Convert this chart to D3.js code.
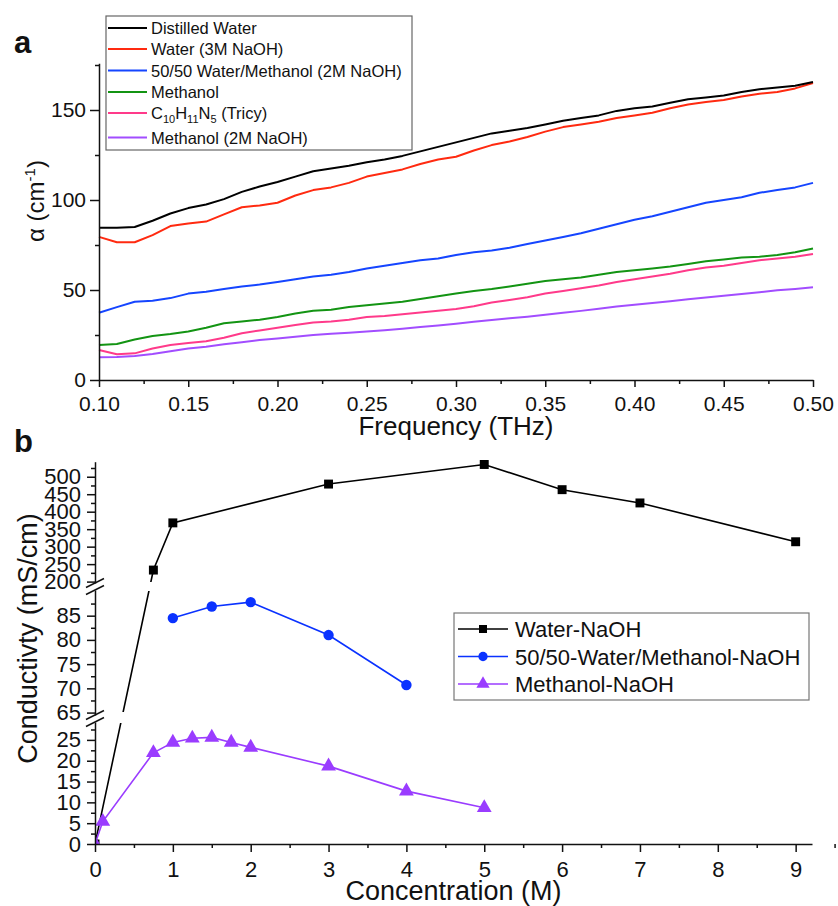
<!DOCTYPE html>
<html lang="en">
<head>
  <meta charset="UTF-8">
  <title>Absorption and conductivity</title>
  <style>
    body { margin: 0; background: #fff; }
    svg { display: block; }
    text { font-family: "Liberation Sans", Arial, sans-serif; fill: #111; }
  </style>
</head>
<body>
  <svg id="chart" width="838" height="906"></svg>

  <script src="https://d3js.org/d3.v7.min.js"></script>
  <script>
    // ---- panel a data: absorption vs frequency ----
    const freqTHz = [0.10, 0.11, 0.12, 0.13, 0.14, 0.15, 0.16, 0.17, 0.18, 0.19,
                     0.20, 0.21, 0.22, 0.23, 0.24, 0.25, 0.26, 0.27, 0.28, 0.29,
                     0.30, 0.31, 0.32, 0.33, 0.34, 0.35, 0.36, 0.37, 0.38, 0.39,
                     0.40, 0.41, 0.42, 0.43, 0.44, 0.45, 0.46, 0.47, 0.48, 0.49, 0.50];
    const distilledWater = [84.6, 84.6, 85, 88.5, 92.5, 95.5, 97.5, 100.5, 104.5, 107.5,
                            110, 113, 116, 117.5, 119, 121, 122.5, 124.5, 127, 129.5,
                            132, 134.5, 137, 138.5, 140, 142, 144, 145.5, 147, 149.5,
                            151, 152, 154, 156, 157, 158, 160, 161.5, 162.5, 163.5, 165.5];
    const water3M = [79.5, 76.5, 76.5, 80.5, 85.5, 87, 88, 92, 96, 97,
                     98.5, 102.5, 105.5, 107, 109.5, 113, 115, 117, 120, 122.5,
                     124, 127.5, 130.5, 132.5, 135, 138, 140.5, 142, 143.5, 145.5,
                     147, 148.5, 151, 153, 154.5, 155.5, 157.5, 159, 160, 162, 165];
    const mix2M = [37.4, 40.5, 43.5, 44, 45.5, 48, 49, 50.5, 52, 53,
                   54.5, 56, 57.5, 58.5, 60, 62, 63.5, 65, 66.5, 67.5,
                   69.5, 71, 72, 73.5, 75.5, 77.5, 79.5, 81.5, 84, 86.5,
                   89, 91, 93.5, 96, 98.5, 100, 101.5, 104, 105.5, 107, 109.5];
    const methanol = [19.4, 20, 22.5, 24.5, 25.5, 27, 29, 31.5, 32.5, 33.5,
                      35, 37, 38.5, 39, 40.5, 41.5, 42.5, 43.5, 45, 46.5,
                      48, 49.5, 50.5, 52, 53.5, 55, 56, 57, 58.5, 60,
                      61, 62, 63, 64.5, 66, 67, 68, 68.5, 69.5, 71, 73];
    const tricy = [16.7, 14.3, 14.8, 17.5, 19.5, 20.5, 21.5, 23.5, 26, 27.5,
                   29, 30.5, 32, 32.5, 33.5, 35, 35.5, 36.5, 37.5, 38.5,
                   39.5, 41, 43, 44.5, 46, 48, 49.5, 51, 52.5, 54.5,
                   56, 57.5, 59, 61, 62.5, 63.5, 65, 66.5, 67.5, 68.5, 70];
    const methanol2M = [12.6, 12.8, 13.3, 14.5, 16, 17.5, 18.5, 19.8, 21, 22.2,
                        23.1, 24, 25, 25.7, 26.3, 26.9, 27.6, 28.5, 29.4, 30.3,
                        31.3, 32.3, 33.3, 34.3, 35.2, 36.2, 37.3, 38.4, 39.6, 40.8,
                        41.8, 42.8, 43.8, 44.8, 45.8, 46.8, 47.8, 48.8, 49.8, 50.6, 51.5];
    const freqTicks = [0.10, 0.15, 0.20, 0.25, 0.30, 0.35, 0.40, 0.45, 0.50];
    const alphaTicks = [0, 50, 100, 150];

    // ---- panel b data: conductivity vs concentration ----
    const concWater = [0, 0.75, 1, 3, 5, 6, 7, 9];
    const condWater = [0, 233, 368, 479, 535, 463, 425, 314];
    const concMix = [1, 1.5, 2, 3, 4];
    const condMix = [84.5, 86.9, 87.8, 81, 70.7];
    const concMeth = [0, 0.1, 0.75, 1, 1.25, 1.5, 1.75, 2, 3, 4, 5];
    const condMeth = [0, 5.4, 21.9, 24.4, 25.4, 25.6, 24.4, 23.2, 18.7, 12.7, 8.7];
    const concTicks = [0, 1, 2, 3, 4, 5, 6, 7, 8, 9];
    const condTicksLow = [0, 5, 10, 15, 20, 25];
    const condTicksMid = [65, 70, 75, 80, 85];
    const condTicksTop = [200, 250, 300, 350, 400, 450, 500];

    const svg = d3.select("#chart");
    const FONT = "'Liberation Sans', Arial, sans-serif";

    // =========================== panel a ===========================
    const seriesA = [
      { name: "Distilled Water", values: distilledWater, color: "#000000" },
      { name: "Water (3M NaOH)", values: water3M, color: "#ff2a10" },
      { name: "50/50 Water/Methanol (2M NaOH)", values: mix2M, color: "#1545ff" },
      { name: "Methanol", values: methanol, color: "#139413" },
      { name: "C10H11N5 (Tricy)", values: tricy, color: "#ff3a8a" },
      { name: "Methanol (2M NaOH)", values: methanol2M, color: "#a24dff" }
    ];

    const xA = d3.scaleLinear().domain([0.1, 0.5]).range([99, 813]);
    const yA = d3.scaleLinear().domain([0, 176]).range([380, 63.2]);

    const gA = svg.append("g");

    const lineA = d3.line()
      .x((d, i) => xA(freqTHz[i]))
      .y(d => yA(d));

    // draw bottom series first so black ends up on top
    seriesA.slice().reverse().forEach(s => {
      gA.append("path")
        .attr("d", lineA(s.values))
        .attr("fill", "none")
        .attr("stroke", s.color)
        .attr("stroke-width", 2)
        .attr("stroke-linejoin", "round");
    });

    // x axis a
    const xAxisA = gA.append("g")
      .attr("transform", "translate(0,380)")
      .call(d3.axisBottom(xA).tickValues(freqTicks).tickFormat(d3.format(".2f"))
        .tickSize(7).tickPadding(9).tickSizeOuter(0));
    gA.append("g")
      .attr("transform", "translate(0,380)")
      .call(d3.axisBottom(xA).tickValues(freqTicks.slice(0, -1).map(v => v + 0.025))
        .tickFormat("").tickSize(4).tickSizeOuter(0))
      .select(".domain").remove();

    // y axis a
    const yAxisA = gA.append("g")
      .attr("transform", "translate(99,0)")
      .call(d3.axisLeft(yA).tickValues(alphaTicks).tickSize(9).tickPadding(4).tickSizeOuter(0));
    gA.append("g")
      .attr("transform", "translate(99,0)")
      .call(d3.axisLeft(yA).tickValues(alphaTicks.map(v => v + 25)).tickFormat("").tickSize(4).tickSizeOuter(0))
      .select(".domain").remove();

    [xAxisA, yAxisA].forEach(ax => ax.selectAll("text").attr("font-size", 21).attr("font-family", FONT).attr("fill", "#111"));
    gA.selectAll(".domain, .tick line").attr("stroke", "#111").attr("stroke-width", 1.5);

    gA.append("text")
      .attr("x", 456).attr("y", 435)
      .attr("text-anchor", "middle")
      .attr("font-size", 26)
      .text("Frequency (THz)");

    const alphaLabel = gA.append("text")
      .attr("transform", "translate(44,201) rotate(-90)")
      .attr("text-anchor", "middle")
      .attr("font-size", 24);
    alphaLabel.append("tspan").text("\u03B1 (cm");
    alphaLabel.append("tspan").attr("dy", -9).attr("font-size", 15).text("-1");
    alphaLabel.append("tspan").attr("dy", 9).text(")");

    gA.append("text")
      .attr("x", 14).attr("y", 53)
      .attr("font-size", 31).attr("font-weight", "bold")
      .text("a");

    // legend a
    const legA = gA.append("g");
    legA.append("rect")
      .attr("x", 106).attr("y", 16).attr("width", 306).attr("height", 134)
      .attr("fill", "#fff").attr("stroke", "#666").attr("stroke-width", 1.2);
    const legAy = [28, 49, 70.5, 92, 113, 137.5];
    seriesA.forEach((s, i) => {
      legA.append("line")
        .attr("x1", 108).attr("x2", 147)
        .attr("y1", legAy[i]).attr("y2", legAy[i])
        .attr("stroke", s.color).attr("stroke-width", 2);
      const t = legA.append("text")
        .attr("x", 151).attr("y", legAy[i] + 6)
        .attr("font-size", 16.5);
      if (s.name.startsWith("C10")) {
        t.append("tspan").text("C");
        t.append("tspan").attr("dy", 4).attr("font-size", 11).text("10");
        t.append("tspan").attr("dy", -4).text("H");
        t.append("tspan").attr("dy", 4).attr("font-size", 11).text("11");
        t.append("tspan").attr("dy", -4).text("N");
        t.append("tspan").attr("dy", 4).attr("font-size", 11).text("5");
        t.append("tspan").attr("dy", -4).text(" (Tricy)");
      } else {
        t.text(s.name);
      }
    });

    // =========================== panel b ===========================
    const xB = d3.scaleLinear().domain([0, 9.21]).range([95, 812]);
    // broken y axis: three segments joined in one polylinear scale
    const yB = d3.scaleLinear()
      .domain([0, 29.3, 64.5, 90.3, 196, 543])
      .range([844, 722, 715, 590, 583, 461.7]);
    const segments = [
      { lo: 0, hi: 29.3, major: condTicksLow, step: 5 },
      { lo: 64.5, hi: 90.3, major: condTicksMid, step: 5 },
      { lo: 196, hi: 543, major: condTicksTop, step: 50 }
    ];

    const gB = svg.append("g");

    svg.append("defs").append("clipPath").attr("id", "clipB")
      .append("rect").attr("x", 95).attr("y", 440).attr("width", 730).attr("height", 404);

    const seriesB = [
      { name: "Water-NaOH", x: concWater, y: condWater, color: "#000000", symbol: d3.symbolSquare, size: 80 },
      { name: "50/50-Water/Methanol-NaOH", x: concMix, y: condMix, color: "#0a32ff", symbol: d3.symbolCircle, size: 85 },
      { name: "Methanol-NaOH", x: concMeth, y: condMeth, color: "#9a3cff", symbol: d3.symbolTriangle, size: 95 }
    ];

    const plotB = gB.append("g").attr("clip-path", "url(#clipB)");
    const lineB = d3.line();

    seriesB.forEach(s => {
      plotB.append("path")
        .attr("d", lineB(s.x.map((c, i) => [xB(c), yB(s.y[i])])))
        .attr("fill", "none")
        .attr("stroke", s.color)
        .attr("stroke-width", 1.6);
    });

    // gaps in lines at the axis breaks
    [[582, 591], [712, 723]].forEach(([a, b]) => {
      plotB.append("rect")
        .attr("x", 96).attr("y", a).attr("width", 720).attr("height", b - a)
        .attr("fill", "#fff");
    });

    seriesB.forEach(s => {
      plotB.selectAll(null)
        .data(s.x.map((c, i) => [c, s.y[i]]))
        .join("path")
        .attr("transform", d => `translate(${xB(d[0])},${yB(d[1])})`)
        .attr("d", d3.symbol().type(s.symbol).size(s.size))
        .attr("fill", s.color);
    });

    // x axis b
    const xAxisB = gB.append("g")
      .attr("transform", "translate(0,844)")
      .call(d3.axisBottom(xB).tickValues(concTicks).tickSize(8).tickPadding(9).tickSizeOuter(0));
    gB.append("g")
      .attr("transform", "translate(0,844)")
      .call(d3.axisBottom(xB).tickValues(concTicks.map(v => v + 0.5)).tickFormat("").tickSize(4).tickSizeOuter(0))
      .select(".domain").remove();
    xAxisB.selectAll("text").attr("font-size", 22).attr("font-family", FONT).attr("fill", "#111");

    // y axis b, one piece per segment
    segments.forEach(seg => {
      const sc = d3.scaleLinear().domain([seg.lo, seg.hi]).range([yB(seg.lo), yB(seg.hi)]);
      const ax = gB.append("g")
        .attr("transform", "translate(95,0)")
        .call(d3.axisLeft(sc).tickValues(seg.major).tickSize(8).tickPadding(6).tickSizeOuter(0));
      ax.selectAll("text").attr("font-size", 22).attr("font-family", FONT).attr("fill", "#111");
      const minors = seg.major.map(v => v + seg.step / 2).filter(v => v < seg.hi);
      gB.append("g")
        .attr("transform", "translate(95,0)")
        .call(d3.axisLeft(sc).tickValues(minors).tickFormat("").tickSize(4).tickSizeOuter(0))
        .select(".domain").remove();
    });
    gB.selectAll(".domain, .tick line").attr("stroke", "#111").attr("stroke-width", 1.5);

    // break marks
    [586.5, 718.5].forEach(yc => {
      [-3.5, 3.5].forEach(off => {
        gB.append("line")
          .attr("x1", 86).attr("y1", yc + off + 4.5)
          .attr("x2", 104).attr("y2", yc + off - 4.5)
          .attr("stroke", "#111").attr("stroke-width", 1.5);
      });
    });

    gB.append("text")
      .attr("x", 453.5).attr("y", 900)
      .attr("text-anchor", "middle")
      .attr("font-size", 27)
      .text("Concentration (M)");

    gB.append("text")
      .attr("transform", "translate(37,638.5) rotate(-90)")
      .attr("text-anchor", "middle")
      .attr("font-size", 27)
      .text("Conductivty (mS/cm)");

    gB.append("text")
      .attr("x", 14).attr("y", 452)
      .attr("font-size", 31).attr("font-weight", "bold")
      .text("b");

    // legend b
    const legB = gB.append("g");
    legB.append("rect")
      .attr("x", 454).attr("y", 613).attr("width", 355).attr("height", 87)
      .attr("fill", "#fff").attr("stroke", "#777").attr("stroke-width", 1.2);
    const legBy = [629, 656.5, 684];
    seriesB.forEach((s, i) => {
      legB.append("line")
        .attr("x1", 458).attr("x2", 508)
        .attr("y1", legBy[i]).attr("y2", legBy[i])
        .attr("stroke", s.color).attr("stroke-width", 1.6);
      legB.append("path")
        .attr("transform", `translate(483,${legBy[i]})`)
        .attr("d", d3.symbol().type(s.symbol).size(s.size * 0.8))
        .attr("fill", s.color);
      legB.append("text")
        .attr("x", 515).attr("y", legBy[i] + 8)
        .attr("font-size", 22)
        .text(s.name);
    });
  </script>
</body>
</html>
